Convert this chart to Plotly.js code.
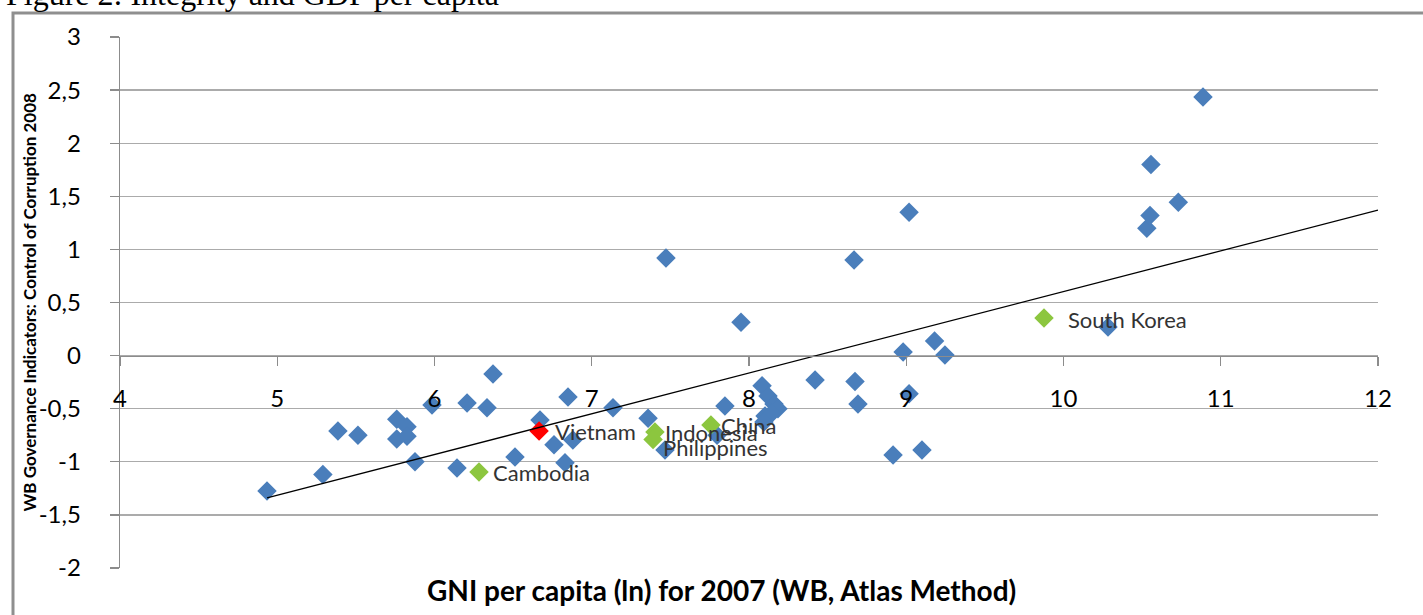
<!DOCTYPE html>
<html>
<head>
<meta charset="utf-8">
<script src="https://cdn.plot.ly/plotly-3.0.1.min.js"></script>
<style>
html,body{margin:0;padding:0;background:#fff;}
#chart{width:1423px;height:615px;}
</style>
</head>
<body>
<div id="chart"></div>
<script>
// Other countries (blue)
const otherX = [4.935, 5.29, 5.386, 5.513, 5.76, 5.825, 5.76, 5.825, 5.876, 5.984,
  6.143, 6.207, 6.334, 6.372, 6.512, 6.671, 6.76, 6.83, 6.849, 6.88,
  7.135, 7.358, 7.466, 7.472, 7.797, 7.847, 7.949,
  8.083, 8.121, 8.159, 8.184, 8.102, 8.146, 8.095,
  8.42, 8.668, 8.674, 8.693, 8.916, 8.98, 9.018, 9.018, 9.10, 9.18, 9.246,
  10.283, 10.53, 10.55, 10.556, 10.73, 10.887];
const otherY = [-1.275, -1.12, -0.71, -0.75, -0.60, -0.67, -0.785, -0.76, -1.00, -0.465,
  -1.058, -0.446, -0.49, -0.173, -0.955, -0.606, -0.84, -1.01, -0.39, -0.795,
  -0.49, -0.59, -0.89, 0.92, -0.75, -0.474, 0.315,
  -0.285, -0.381, -0.456, -0.50, -0.568, -0.54, -0.626,
  -0.23, 0.90, -0.245, -0.455, -0.936, 0.034, 1.35, -0.36, -0.89, 0.137, 0.006,
  0.27, 1.20, 1.32, 1.80, 1.445, 2.435];

// Highlighted countries (green)
const peerNames = ["Cambodia", "Indonesia", "Philippines", "China", "South Korea"];
const peerX = [6.283, 7.402, 7.39, 7.758, 9.876];
const peerY = [-1.096, -0.72, -0.79, -0.654, 0.355];

// Vietnam (red)
const vnName = ["Vietnam"];
const vnX = [6.665];
const vnY = [-0.71];

// Linear trend line end points
const trendX = [4.935, 12];
const trendY = [-1.34, 1.37];

// Axis ticks
const yTickVals = [-2, -1.5, -1, -0.5, 0, 0.5, 1, 1.5, 2, 2.5, 3];
const yTickText = ["-2", "-1,5", "-1", "-0,5", "0", "0,5", "1", "1,5", "2", "2,5", "3"];
const xTickVals = [4, 5, 6, 7, 8, 9, 10, 11, 12];

const FONT = "Lato, 'Open Sans', sans-serif";
const W = 1423, H = 615;
const mL = 120, mR = 45, mT = 37, mB = 47;
const pw = W - mL - mR, ph = H - mT - mB;
const px = x => (x - mL) / pw;      // pixel -> paper x
const py = y => (H - mB - y) / ph;  // pixel -> paper y

// label placement style (pixel shifts from the marker)
const labelStyle = {
  "default": {dx: 12, dy: 0},
  "South Korea": {dx: 22, dy: -2},
  "Philippines": {dx: 8, dy: -8},
  "Indonesia": {dx: 8, dy: 0},
  "China": {dx: 8, dy: 0},
  "Vietnam": {dx: 14, dy: 0}
};

const MS = 15;
const traces = [
  {
    type: "scatter", mode: "markers", x: otherX, y: otherY,
    marker: {symbol: "diamond", size: MS, color: "#4a7ebb"},
    hoverinfo: "skip", showlegend: false
  },
  {
    type: "scatter", mode: "markers", x: peerX, y: peerY,
    marker: {symbol: "diamond", size: MS, color: "#8cc63f"},
    hoverinfo: "skip", showlegend: false
  },
  {
    type: "scatter", mode: "markers", x: vnX, y: vnY,
    marker: {symbol: "diamond", size: MS, color: "#ff0000"},
    hoverinfo: "skip", showlegend: false
  },
  {
    type: "scatter", mode: "lines", x: trendX, y: trendY,
    line: {color: "#000000", width: 1.3},
    hoverinfo: "skip", showlegend: false
  }
];

const labelAnns = [];
function addLabels(names, xs, ys) {
  names.forEach((n, i) => {
    const s = labelStyle[n] || labelStyle["default"];
    labelAnns.push({
      text: n, x: xs[i], y: ys[i], xref: "x", yref: "y",
      xanchor: "left", yanchor: "middle", showarrow: false,
      xshift: s.dx, yshift: s.dy,
      font: {family: FONT, size: 22, color: "#333333"}
    });
  });
}
addLabels(vnName, vnX, vnY);
addLabels(peerNames, peerX, peerY);

const layout = {
  width: W, height: H,
  margin: {l: mL, r: mR, t: mT, b: mB, pad: 0},
  paper_bgcolor: "#ffffff", plot_bgcolor: "#ffffff",
  showlegend: false,
  font: {family: FONT, color: "#000000"},
  xaxis: {
    range: [4, 12], tickvals: xTickVals,
    anchor: "free", position: 0.4,
    showgrid: false, zeroline: false,
    showline: true, linecolor: "#8c8c8c", linewidth: 1.3,
    ticks: "outside", ticklen: 9, tickcolor: "#8c8c8c", tickwidth: 1.3,
    ticklabelstandoff: 12,
    tickfont: {family: FONT, size: 24, color: "#000000"}
  },
  yaxis: {
    range: [-2, 3], tickvals: yTickVals, ticktext: yTickText,
    showgrid: true, gridcolor: "#ababab", gridwidth: 1.3,
    zeroline: false,
    showline: true, linecolor: "#8c8c8c", linewidth: 1.3,
    ticks: "outside", ticklen: 9, tickcolor: "#8c8c8c", tickwidth: 1.3,
    ticklabelstandoff: 24,
    tickfont: {family: FONT, size: 24, color: "#000000"}
  },
  shapes: [
    {type: "rect", xref: "paper", yref: "paper", layer: "below",
     x0: px(13), x1: px(1440), y0: py(630), y1: py(13),
     line: {color: "#8f8f8f", width: 3}, fillcolor: "rgba(0,0,0,0)"}
  ],
  annotations: [
    {text: "Figure 2: Integrity and GDP per capita", xref: "paper", yref: "paper",
     x: px(4), y: py(14), xanchor: "left", yanchor: "bottom", showarrow: false,
     font: {family: "'Liberation Serif', 'Times New Roman', serif", size: 32, color: "#000000"}},
    {text: "WB Governance Indicators: Control of Corruption 2008", xref: "paper", yref: "paper",
     x: px(29), y: 0.5, xanchor: "center", yanchor: "middle", textangle: -90, showarrow: false,
     font: {family: FONT, size: 17, weight: "bold", color: "#000000"}},
    {text: "GNI per capita (ln) for 2007 (WB, Atlas Method)", xref: "paper", yref: "paper",
     x: px(721), y: py(590), xanchor: "center", yanchor: "middle", showarrow: false,
     font: {family: FONT, size: 28, weight: "bold", color: "#000000"}}
  ].concat(labelAnns)
};

Plotly.newPlot("chart", traces, layout, {displayModeBar: false, staticPlot: true});
</script>
</body>
</html>
